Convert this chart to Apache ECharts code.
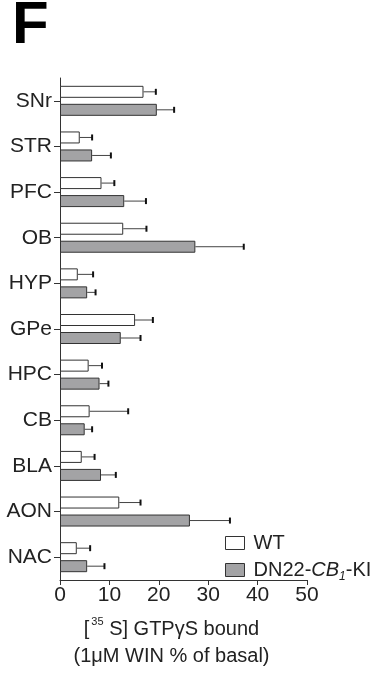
<!DOCTYPE html>
<html>
<head>
<meta charset="utf-8">
<script src="https://cdn.jsdelivr.net/npm/echarts@6/dist/echarts.min.js"></script>
<style>
  html, body { margin: 0; padding: 0; background: #fff; }
  #chart { width: 376px; height: 675px; }
</style>
</head>
<body>
<div id="chart"></div>
<script>
// Brain regions, top to bottom
const regions = ['SNr', 'STR', 'PFC', 'OB', 'HYP', 'GPe', 'HPC', 'CB', 'BLA', 'AON', 'NAC'];
// [35S]GTPγS binding stimulated by 1 µM WIN (% over basal): mean and SEM
const wtMean = [16.9, 4.0, 8.4, 12.8, 3.6, 15.2, 5.8, 6.0, 4.4, 12.0, 3.4];
const wtSem  = [2.5, 2.5, 2.6, 4.7, 3.1, 3.6, 2.7, 7.8, 2.6, 4.3, 2.7];
const kiMean = [19.6, 6.5, 13.0, 27.4, 5.5, 12.3, 8.0, 5.0, 8.3, 26.3, 5.5];
const kiSem  = [3.5, 3.8, 4.4, 9.8, 1.7, 4.0, 1.8, 1.5, 3.0, 8.1, 3.5];
const xTicks = [0, 10, 20, 30, 40, 50];

const FONT = '"Liberation Sans", Arial, Helvetica, sans-serif';
const BAR_W = 12;
const BAR_GAP = 6;

// One-sided error bar (mean -> mean + SEM) with an end cap
function errorRenderer(offset) {
  return function (params, api) {
    const mean = api.value(0);
    const sem = api.value(1);
    const idx = api.value(2);
    const p0 = api.coord([mean, idx]);
    const p1 = api.coord([mean + sem, idx]);
    const y = p0[1] + offset;
    return {
      type: 'group',
      children: [
        { type: 'line', shape: { x1: p0[0], y1: y, x2: p1[0], y2: y },
          style: { stroke: '#444', lineWidth: 1 } },
        { type: 'line', shape: { x1: p1[0], y1: y - 3, x2: p1[0], y2: y + 3 },
          style: { stroke: '#111', lineWidth: 2 } }
      ]
    };
  };
}

const chart = echarts.init(document.getElementById('chart'), null, { renderer: 'canvas' });
chart.setOption({
  animation: false,
  backgroundColor: '#fff',
  title: {
    text: 'F', left: 7, top: -9,
    textStyle: { fontFamily: FONT, fontSize: 60, fontWeight: 'bold', color: '#000' }
  },
  grid: { left: 60, right: 69, top: 78, bottom: 94, containLabel: false },
  legend: {
    orient: 'vertical', left: 220, top: 528, itemWidth: 19, itemHeight: 13, itemGap: 4,
    selectedMode: false, icon: 'rect',
    data: [
      { name: 'WT', itemStyle: { color: '#fff', borderColor: '#333', borderWidth: 1 } },
      { name: 'KI', itemStyle: { color: '#a3a3a5', borderColor: '#333', borderWidth: 1 } }
    ],
    formatter: function (name) {
      return name === 'WT' ? '{t|WT}' : '{t|DN22-}{i|CB}{s|1}{t|-KI}';
    },
    textStyle: {
      fontFamily: FONT, fontSize: 20, color: '#222', padding: [0, 0, 0, 4],
      rich: {
        t: { fontFamily: FONT, fontSize: 20, color: '#222', lineHeight: 22 },
        i: { fontFamily: FONT, fontSize: 20, fontStyle: 'italic', color: '#222', lineHeight: 22 },
        // subscript: extra top padding pushes the glyph below the baseline
        s: { fontFamily: FONT, fontSize: 12, fontStyle: 'italic', color: '#222', lineHeight: 10, padding: [14, 0, 0, 0] }
      }
    }
  },
  xAxis: {
    type: 'value', min: xTicks[0], max: xTicks[xTicks.length - 1], interval: xTicks[1] - xTicks[0],
    splitLine: { show: false },
    axisLine: { show: true, lineStyle: { color: '#333', width: 1 } },
    axisTick: { show: true, length: 5, lineStyle: { color: '#333' } },
    axisLabel: { fontFamily: FONT, fontSize: 21, color: '#222', margin: 5 },
    name: '{a|[}{sup|35}{a| S] GTPγS bound}\n{a|(1μM WIN % of basal)}',
    nameLocation: 'middle', nameGap: 36,
    nameTextStyle: {
      fontFamily: FONT, fontSize: 20, color: '#222', lineHeight: 27, padding: [0, 24, 0, 0],
      rich: {
        a: { fontFamily: FONT, fontSize: 20, color: '#222', lineHeight: 27 },
        sup: { fontFamily: FONT, fontSize: 11, color: '#222', lineHeight: 27, verticalAlign: 'top', padding: [0, 0, 8, 2] }
      }
    }
  },
  yAxis: {
    type: 'category', data: regions, inverse: true,
    axisLine: { show: true, lineStyle: { color: '#333', width: 1 } },
    axisTick: { show: true, alignWithLabel: true, length: 6, lineStyle: { color: '#333' } },
    axisLabel: { fontFamily: FONT, fontSize: 21, color: '#222', margin: 8 },
    splitLine: { show: false }
  },
  series: [
    {
      name: 'WT', type: 'bar', data: wtMean, barWidth: BAR_W, barGap: '50%',
      itemStyle: { color: '#fff', borderColor: '#333', borderWidth: 1 }
    },
    {
      name: 'KI', type: 'bar', data: kiMean, barWidth: BAR_W, barGap: '50%',
      itemStyle: { color: '#a3a3a5', borderColor: '#333', borderWidth: 1 }
    },
    {
      type: 'custom', name: 'WT err', silent: true, z: 3,
      renderItem: errorRenderer(-(BAR_W + BAR_GAP) / 2),
      encode: { x: 0, y: 2 },
      data: wtMean.map((m, i) => [m, wtSem[i], i])
    },
    {
      type: 'custom', name: 'KI err', silent: true, z: 3,
      renderItem: errorRenderer((BAR_W + BAR_GAP) / 2),
      encode: { x: 0, y: 2 },
      data: kiMean.map((m, i) => [m, kiSem[i], i])
    }
  ]
});
</script>
</body>
</html>
